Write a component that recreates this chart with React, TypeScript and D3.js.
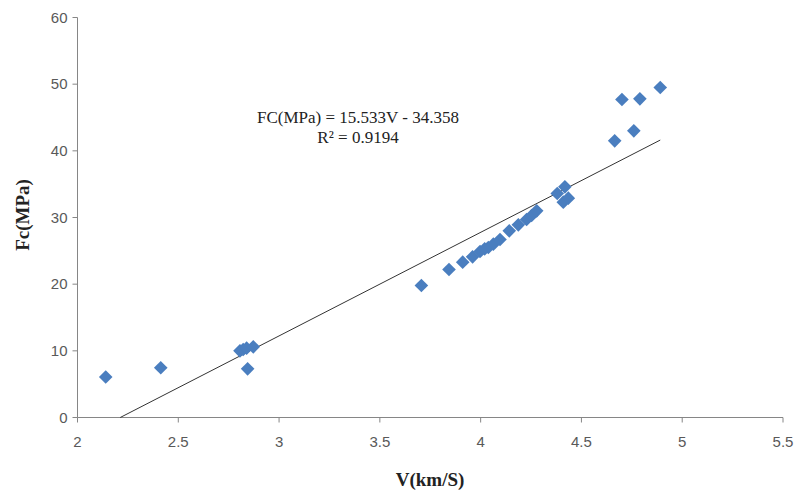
import React from "react";
import * as d3 from "d3";

const vValues = [2.14, 2.413, 2.806, 2.822, 2.839, 2.844, 2.872, 3.706, 3.843, 3.911, 3.96, 3.997, 4.02, 4.038, 4.063, 4.096, 4.142, 4.187, 4.228, 4.253, 4.278, 4.38, 4.418, 4.41, 4.435, 4.665, 4.701, 4.76, 4.79, 4.891];
const fcValues = [6.07, 7.47, 10.0, 10.2, 10.4, 7.3, 10.6, 19.8, 22.2, 23.3, 24.1, 24.9, 25.3, 25.5, 26.0, 26.7, 28.0, 28.9, 29.7, 30.3, 31.0, 33.6, 34.6, 32.3, 32.9, 41.5, 47.7, 43.0, 47.8, 49.5];
const xTicks = [2, 2.5, 3, 3.5, 4, 4.5, 5, 5.5];
const yTicks = [0, 10, 20, 30, 40, 50, 60];
const slope = 15.533;
const intercept = -34.358;

export default function App() {
  const W = 794, H = 492;
  const x = d3.scaleLinear().domain([2, 5.5]).range([77.5, 783]);
  const y = d3.scaleLinear().domain([0, 60]).range([417.5, 17.5]);
  const xStart = -intercept / slope;
  const xEnd = d3.max(vValues) as number;
  const line = d3.line<number>().x((v) => x(v)).y((v) => y(slope * v + intercept));
  const axisColor = "#868686";
  const tickFont = "'Liberation Sans', Arial, sans-serif";
  const serif = "'Liberation Serif', 'Times New Roman', serif";
  const r = 6.8;
  return (
    <svg width={W} height={H} style={{ position: "absolute", left: 0, top: 0, background: "#fff" }}>
      <line x1={x(2)} x2={x(5.5)} y1={y(0)} y2={y(0)} stroke={axisColor} strokeWidth={1} />
      <line x1={x(2)} x2={x(2)} y1={y(0)} y2={y(60)} stroke={axisColor} strokeWidth={1} />
      {yTicks.map((t) => (
        <g key={"y" + t}>
          <line x1={x(2) - 5} x2={x(2)} y1={y(t)} y2={y(t)} stroke={axisColor} />
          <text x={x(2) - 10} y={y(t)} dy="0.35em" textAnchor="end" fontFamily={tickFont} fontSize={15} fill="#595959">{t}</text>
        </g>
      ))}
      {xTicks.map((t) => (
        <g key={"x" + t}>
          <line x1={x(t)} x2={x(t)} y1={y(0)} y2={y(0) + 5} stroke={axisColor} />
          <text x={x(t)} y={y(0) + 24} dy="0.35em" textAnchor="middle" fontFamily={tickFont} fontSize={15} fill="#595959">{t}</text>
        </g>
      ))}
      <path d={line([xStart, xEnd]) || ""} stroke="#333" strokeWidth={1} fill="none" />
      {vValues.map((v, i) => {
        const cx = x(v), cy = y(fcValues[i]);
        return (
          <path key={i} d={`M${cx},${cy - r}L${cx + r},${cy}L${cx},${cy + r}L${cx - r},${cy}Z`} fill="#4a7ebf" />
        );
      })}
      <text x={358} y={123} textAnchor="middle" fontFamily={serif} fontSize={17} fill="#222">FC(MPa) = 15.533V - 34.358</text>
      <text x={358} y={143} textAnchor="middle" fontFamily={serif} fontSize={17} fill="#222">R² = 0.9194</text>
      <text x={430} y={486} textAnchor="middle" fontFamily={serif} fontSize={19} fontWeight="bold" fill="#222">V(km/S)</text>
      <text transform="translate(29,215) rotate(-90)" textAnchor="middle" fontFamily={serif} fontSize={19} fontWeight="bold" fill="#222">Fc(MPa)</text>
    </svg>
  );
}
